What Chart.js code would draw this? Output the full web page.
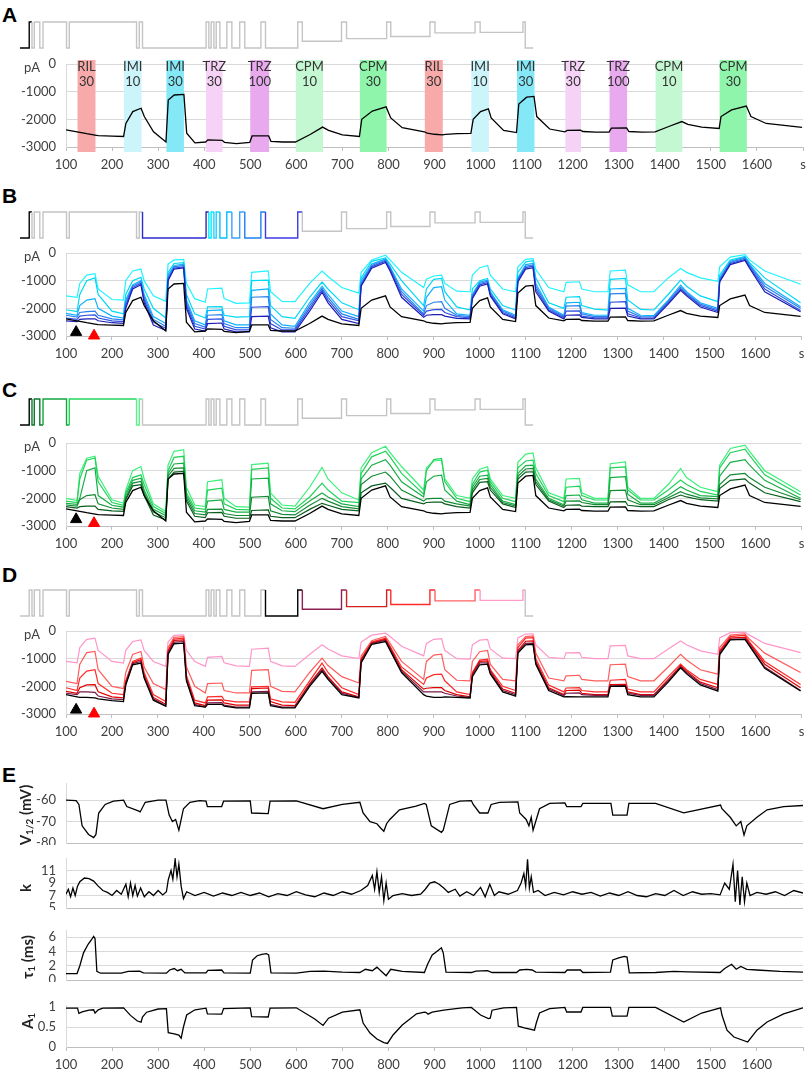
<!DOCTYPE html>
<html>
<head>
<meta charset="utf-8">
<script src="https://cdn.jsdelivr.net/npm/chart.js@4.4.0/dist/chart.umd.min.js"></script>
<style>
  body { margin: 0; background: #fff; width: 809px; height: 1072px; position: relative; overflow: hidden; }
  canvas { position: absolute; left: 0; }
  .tag { position: absolute; left: 2px; font: bold 21px "Liberation Sans", Arial, sans-serif; line-height: 21px; color: #000; }
</style>
</head>
<body>
<div class="tag" style="top:4px">A</div>
<div class="tag" style="top:185px">B</div>
<div class="tag" style="top:379px">C</div>
<div class="tag" style="top:564px">D</div>
<div class="tag" style="top:764px">E</div>

<canvas id="protoA" width="809" height="34" style="top:18px"></canvas>
<canvas id="curA" width="809" height="120" style="top:56px"></canvas>
<canvas id="protoB" width="809" height="34" style="top:208px"></canvas>
<canvas id="curB" width="809" height="120" style="top:245px"></canvas>
<canvas id="protoC" width="809" height="34" style="top:395px"></canvas>
<canvas id="curC" width="809" height="120" style="top:435px"></canvas>
<canvas id="protoD" width="809" height="34" style="top:586px"></canvas>
<canvas id="curD" width="809" height="120" style="top:623px"></canvas>
<canvas id="eV" width="809" height="70" style="top:775px"></canvas>
<canvas id="eK" width="809" height="60" style="top:850px"></canvas>
<canvas id="eTau" width="809" height="60" style="top:922px"></canvas>
<canvas id="eA" width="809" height="75" style="top:997px"></canvas>

<script>
// ---------- axes / ticks ----------
const xTicks = [100, 200, 300, 400, 500, 600, 700, 800, 900, 1000, 1100, 1200, 1300, 1400, 1500, 1600, 1700];
const pATicks = [0, -1000, -2000, -3000];
const vTicks = [-60, -70, -80];
const kTicks = [5, 7, 9, 11];
const tauTicks = [0, 2, 4, 6];
const a1Ticks = [0, 0.5, 1];

// ---------- drug applications (panel A) ----------
const bandStart = [125, 226, 318, 404, 500, 599, 738, 879, 980, 1079, 1184, 1280, 1380, 1519];
const bandEnd   = [164, 264, 356, 440, 541, 658, 796, 918, 1018, 1117, 1218, 1318, 1438, 1578];
const bandDrug  = ['RIL', 'IMI', 'IMI', 'TRZ', 'TRZ', 'CPM', 'CPM', 'RIL', 'IMI', 'IMI', 'TRZ', 'TRZ', 'CPM', 'CPM'];
const bandConc  = ['30', '10', '30', '30', '100', '10', '30', '30', '10', '30', '30', '100', '10', '30'];

// ---------- protocol schematic (own time units, 0 = left end) ----------
const protoU = [0, 20, 20, 26, 26, 31, 31, 43, 43, 50, 50, 101, 101, 107, 107, 253, 253, 259, 259, 266, 266,
  404, 404, 410, 410, 415, 415, 421, 421, 426, 426, 434, 434, 449, 449, 460, 460, 477, 477, 488, 488,
  523, 523, 533, 533, 603, 603, 613, 613, 698, 698, 709, 709, 796, 796, 805, 805, 890, 890, 901, 901,
  988, 988, 999, 999, 1092, 1092, 1097, 1097, 1114];
const protoLvl = [0, 0, 1, 1, 0, 0, 1, 1, 0, 0, 1, 1, 0, 0, 1, 1, 0, 0, 1, 1, 0, 0, 1, 1, 0, 0, 1, 1, 0, 0,
  1, 1, 0, 0, 1, 1, 0, 0, 1, 1, 0, 0, 1, 1, 0, 0, 1, 1, 0.26, 0.26, 1, 1, 0.36, 0.36, 1, 1, 0.44, 0.44,
  1, 1, 0.58, 0.58, 1, 1, 0.6, 0.6, 1, 1, 0, 0];

// ---------- current traces, sampled at common times (s) ----------
const tCur = [100, 124, 130, 145, 163, 170, 200, 225, 230, 245,
  263, 270, 290, 317, 322, 335, 356, 362, 380, 403,
  408, 439, 444, 470, 499, 504, 540, 545, 570, 598,
  630, 657, 670, 700, 737, 742, 765, 795, 805, 830,
  878, 884, 900, 917, 924, 950, 979, 984, 1000, 1017,
  1023, 1050, 1078, 1083, 1100, 1116, 1122, 1150, 1183, 1188,
  1217, 1222, 1250, 1279, 1284, 1317, 1322, 1350, 1379, 1410,
  1437, 1450, 1480, 1518, 1522, 1545, 1577, 1587, 1620, 1698];

const ctrl = [-2380, -2450, -2470, -2520, -2570, -2590, -2610, -2620, -2150, -1720,
  -1600, -1900, -2450, -2820, -1300, -1120, -1100, -2500, -2850, -2820,
  -2740, -2760, -2830, -2880, -2830, -2600, -2600, -2800, -2820, -2820,
  -2550, -2280, -2400, -2560, -2620, -2000, -1700, -1550, -1950, -2300,
  -2450, -2500, -2540, -2560, -2540, -2520, -2510, -2000, -1720, -1620,
  -1950, -2400, -2480, -1450, -1200, -1170, -1900, -2350, -2450, -2400,
  -2390, -2440, -2460, -2460, -2320, -2310, -2440, -2460, -2450, -2250,
  -2080, -2180, -2280, -2330, -1900, -1660, -1520, -1900, -2150, -2290];

// panel B
const b1 = [-1550, -1600, -1100, -800, -750, -1300, -1680, -1700, -1000, -650,
  -580, -1000, -1550, -1750, -400, -250, -230, -1100, -1650, -1780,
  -1300, -1270, -1650, -1820, -1800, -700, -650, -1400, -1750, -1760,
  -1100, -650, -850, -1250, -1450, -700, -250, -80, -250, -700,
  -1250, -950, -830, -800, -1100, -1380, -1400, -800, -530, -450,
  -800, -1300, -1400, -500, -230, -200, -600, -1250, -1400, -1060,
  -1040, -1300, -1400, -1400, -650, -620, -1150, -1400, -1400, -900,
  -560, -700, -900, -1020, -500, -150, -60, -250, -650, -1130];
const b2 = [-2050, -2120, -1500, -1000, -900, -1500, -2100, -2200, -1500, -1000,
  -880, -1300, -2000, -2350, -700, -380, -350, -1500, -2200, -2350,
  -1950, -1940, -2250, -2320, -2300, -1000, -980, -1900, -2300, -2360,
  -1600, -1050, -1300, -1800, -2050, -900, -300, -180, -400, -1000,
  -1900, -1300, -950, -920, -1400, -1950, -2060, -1300, -1000, -920,
  -1300, -1900, -2060, -700, -320, -280, -900, -1800, -2000, -1600,
  -1580, -1900, -2030, -2060, -950, -920, -1700, -2040, -2060, -1500,
  -980, -1200, -1550, -1760, -800, -250, -120, -350, -900, -1800];
const b3 = [-2180, -2250, -1900, -1700, -1650, -2000, -2280, -2350, -1700, -1150,
  -1000, -1500, -2300, -2550, -800, -450, -400, -1700, -2450, -2600,
  -2080, -2060, -2450, -2600, -2600, -1350, -1300, -2200, -2600, -2650,
  -1800, -1200, -1500, -2100, -2300, -1000, -400, -220, -500, -1300,
  -2100, -1600, -1250, -1220, -1700, -2200, -2250, -1500, -1050, -980,
  -1400, -2050, -2250, -900, -420, -380, -1100, -1950, -2250, -1800,
  -1780, -2150, -2250, -2250, -1300, -1280, -2000, -2250, -2260, -1700,
  -1160, -1400, -1800, -2000, -900, -300, -150, -400, -1100, -1940];
const b4 = [-2250, -2320, -2150, -2120, -2100, -2250, -2380, -2420, -1800, -1200,
  -1050, -1600, -2400, -2650, -900, -500, -450, -1800, -2550, -2680,
  -2250, -2230, -2550, -2700, -2700, -1600, -1580, -2400, -2700, -2720,
  -1900, -1280, -1600, -2200, -2400, -1100, -450, -260, -550, -1400,
  -2200, -1900, -1780, -1760, -2000, -2250, -2300, -1550, -1100, -1020,
  -1450, -2100, -2300, -950, -480, -430, -1200, -2000, -2300, -1920,
  -1900, -2200, -2300, -2300, -1480, -1460, -2100, -2300, -2310, -1750,
  -1230, -1450, -1850, -2050, -950, -340, -190, -450, -1200, -2000];
const b5 = [-2350, -2400, -2280, -2250, -2240, -2350, -2450, -2480, -1900, -1250,
  -1100, -1700, -2500, -2720, -950, -540, -500, -1900, -2650, -2750,
  -2400, -2380, -2650, -2780, -2780, -1960, -1940, -2550, -2780, -2780,
  -2000, -1350, -1700, -2300, -2450, -1150, -500, -300, -600, -1500,
  -2250, -2100, -2050, -2040, -2150, -2300, -2340, -1600, -1150, -1070,
  -1500, -2150, -2340, -1000, -530, -480, -1300, -2050, -2330, -2100,
  -2090, -2280, -2340, -2340, -1780, -1760, -2200, -2340, -2350, -1800,
  -1300, -1500, -1900, -2100, -1000, -380, -230, -500, -1300, -2080];
const b6 = [-2450, -2480, -2400, -2380, -2380, -2450, -2520, -2540, -2000, -1300,
  -1150, -1800, -2600, -2800, -1000, -580, -540, -2000, -2750, -2820,
  -2550, -2530, -2750, -2850, -2850, -2300, -2280, -2700, -2850, -2850,
  -2100, -1420, -1800, -2400, -2550, -1200, -550, -340, -650, -1600,
  -2320, -2250, -2230, -2230, -2280, -2360, -2380, -1650, -1200, -1120,
  -1550, -2200, -2380, -1050, -580, -530, -1400, -2100, -2380, -2250,
  -2240, -2330, -2380, -2380, -2000, -1990, -2280, -2380, -2380, -1850,
  -1350, -1550, -1950, -2150, -1050, -420, -270, -550, -1400, -2120];

// panel C
const g1 = [-2000, -2080, -1100, -550, -480, -1200, -2050, -2180, -1700, -1000,
  -850, -1300, -2200, -2480, -800, -300, -240, -1600, -2240, -2300,
  -1400, -1330, -2000, -2300, -2320, -780, -730, -1800, -2240, -2280,
  -1600, -880, -1300, -1800, -2060, -900, -350, -120, -350, -850,
  -1700, -900, -650, -620, -1300, -1900, -2000, -1300, -950, -860,
  -1300, -1900, -2000, -700, -400, -360, -900, -1800, -2000, -1300,
  -1280, -1800, -2000, -2000, -750, -680, -1600, -2000, -2000, -1500,
  -920, -1250, -1600, -1760, -800, -200, -80, -300, -1000, -1760];
const g2 = [-2100, -2150, -1300, -620, -540, -1400, -2150, -2250, -1800, -1250,
  -1150, -1500, -2300, -2550, -1000, -520, -480, -1800, -2350, -2400,
  -1700, -1630, -2200, -2400, -2420, -950, -900, -2000, -2350, -2380,
  -1950, -1450, -1700, -2100, -2150, -1100, -500, -300, -500, -1100,
  -1850, -1000, -600, -560, -1400, -2000, -2120, -1500, -1050, -980,
  -1400, -2000, -2120, -900, -650, -620, -1100, -1900, -2120, -1600,
  -1560, -1900, -2060, -2060, -900, -860, -1700, -2060, -2060, -1700,
  -1340, -1500, -1750, -1880, -900, -350, -220, -450, -1150, -1880];
const g3 = [-2180, -2220, -2000, -1000, -900, -1900, -2250, -2320, -1900, -1350,
  -1270, -1700, -2400, -2620, -1100, -760, -730, -1900, -2450, -2500,
  -2100, -2060, -2400, -2500, -2500, -1300, -1270, -2200, -2450, -2480,
  -2100, -1810, -1950, -2200, -2300, -1300, -800, -600, -800, -1400,
  -1950, -1400, -1200, -1160, -1700, -2100, -2230, -1600, -1200, -1160,
  -1500, -2100, -2230, -1100, -820, -800, -1300, -2000, -2230, -1900,
  -1880, -2050, -2170, -2170, -1250, -1220, -1850, -2170, -2170, -1900,
  -1580, -1700, -1900, -1940, -1200, -700, -600, -800, -1350, -2000];
const g4 = [-2240, -2280, -2050, -1900, -1870, -2200, -2350, -2400, -2000, -1450,
  -1390, -1800, -2500, -2700, -1200, -920, -900, -2000, -2550, -2600,
  -2400, -2390, -2550, -2620, -2620, -1960, -1930, -2450, -2580, -2600,
  -2250, -2000, -2100, -2300, -2380, -1500, -1200, -1050, -1200, -1700,
  -2100, -2020, -2000, -2000, -2100, -2200, -2280, -1700, -1320, -1280,
  -1600, -2150, -2280, -1200, -940, -920, -1400, -2050, -2280, -2100,
  -2090, -2150, -2230, -2230, -1720, -1700, -2050, -2230, -2230, -1980,
  -1760, -1850, -1980, -2020, -1500, -1150, -1100, -1250, -1600, -2050];
const g5 = [-2300, -2350, -2300, -2280, -2280, -2400, -2450, -2470, -2050, -1550,
  -1510, -1900, -2600, -2780, -1300, -1050, -1030, -2100, -2650, -2700,
  -2520, -2510, -2650, -2720, -2720, -2440, -2420, -2650, -2700, -2700,
  -2400, -2180, -2250, -2400, -2450, -1800, -1550, -1450, -1600, -2000,
  -2200, -2150, -2140, -2140, -2200, -2300, -2350, -1800, -1420, -1400,
  -1700, -2200, -2330, -1300, -1050, -1040, -1500, -2100, -2330, -2250,
  -2240, -2280, -2300, -2300, -2130, -2120, -2250, -2300, -2300, -2050,
  -1880, -1950, -2050, -2100, -1650, -1350, -1300, -1450, -1800, -2120];

// panel D
const pk = [-1100, -1150, -600, -300, -260, -700, -1100, -1160, -700, -380,
  -320, -700, -1100, -1280, -400, -160, -140, -700, -1100, -1280,
  -950, -920, -1150, -1260, -1280, -660, -620, -1100, -1260, -1280,
  -850, -500, -650, -900, -1000, -400, -150, -80, -200, -550,
  -900, -450, -300, -280, -700, -1000, -1020, -500, -330, -300,
  -650, -980, -1000, -250, -110, -100, -500, -950, -1000, -790,
  -780, -950, -1000, -1000, -540, -520, -900, -1000, -1000, -650,
  -360, -500, -720, -840, -250, -60, -40, -150, -450, -780];
const r1 = [-1820, -1900, -1200, -780, -740, -1400, -2000, -2080, -1500, -850,
  -740, -1300, -1900, -2120, -600, -230, -200, -1300, -2000, -2240,
  -1900, -1880, -2150, -2240, -2240, -1420, -1400, -2000, -2180, -2200,
  -1500, -980, -1250, -1650, -1880, -900, -350, -200, -450, -1100,
  -1750, -1100, -870, -840, -1400, -1780, -1800, -1100, -750, -700,
  -1200, -1750, -1800, -500, -200, -180, -800, -1700, -1800, -1620,
  -1600, -1750, -1800, -1800, -1220, -1200, -1650, -1800, -1800, -1300,
  -840, -1050, -1400, -1560, -600, -150, -100, -300, -800, -1500];
const r2 = [-2050, -2150, -1700, -1450, -1400, -1900, -2250, -2300, -1800, -1100,
  -980, -1500, -2300, -2550, -700, -290, -260, -1600, -2500, -2600,
  -2380, -2360, -2500, -2560, -2560, -2020, -2000, -2450, -2560, -2580,
  -1800, -1160, -1500, -2050, -2300, -1000, -400, -260, -550, -1300,
  -1930, -1700, -1580, -1560, -1800, -2200, -2300, -1500, -1050, -1020,
  -1400, -2000, -2150, -600, -260, -240, -1000, -1950, -2200, -2060,
  -2050, -2150, -2200, -2200, -1780, -1750, -2100, -2200, -2200, -1650,
  -1200, -1400, -1750, -1930, -700, -200, -150, -400, -1100, -1930];
const r3 = [-2180, -2250, -2050, -1950, -1940, -2200, -2380, -2420, -1850, -1150,
  -1040, -1600, -2400, -2650, -750, -340, -320, -1700, -2600, -2700,
  -2500, -2490, -2600, -2680, -2680, -2080, -2060, -2550, -2680, -2700,
  -1900, -1340, -1650, -2200, -2380, -1050, -430, -300, -600, -1400,
  -2100, -2070, -2050, -2050, -2150, -2300, -2380, -1550, -1100, -1080,
  -1450, -2100, -2250, -700, -370, -360, -1100, -2050, -2300, -2150,
  -2140, -2250, -2300, -2300, -1940, -1930, -2200, -2300, -2300, -1750,
  -1260, -1450, -1850, -2050, -750, -260, -220, -450, -1200, -2050];
const mr = [-2250, -2300, -2200, -2200, -2220, -2350, -2450, -2480, -1900, -1180,
  -1100, -1650, -2450, -2700, -800, -400, -380, -1750, -2650, -2750,
  -2600, -2590, -2680, -2750, -2750, -2200, -2180, -2650, -2750, -2750,
  -1950, -1400, -1700, -2250, -2400, -1100, -450, -330, -650, -1450,
  -2200, -2200, -2200, -2200, -2250, -2350, -2400, -1600, -1150, -1150,
  -1500, -2150, -2300, -750, -450, -440, -1150, -2100, -2330, -2250,
  -2240, -2300, -2330, -2330, -1980, -1970, -2250, -2330, -2330, -1800,
  -1300, -1500, -1900, -2120, -800, -300, -280, -500, -1300, -2150];
const dk = [-2300, -2380, -2400, -2400, -2420, -2450, -2520, -2550, -1950, -1220,
  -1160, -1700, -2500, -2720, -850, -460, -440, -1800, -2700, -2750,
  -2650, -2650, -2720, -2780, -2780, -2250, -2240, -2700, -2780, -2780,
  -2000, -1460, -1750, -2300, -2420, -1150, -480, -380, -700, -1500,
  -2300, -2350, -2400, -2400, -2380, -2400, -2420, -1650, -1220, -1200,
  -1550, -2200, -2350, -800, -500, -480, -1200, -2150, -2380, -2370,
  -2380, -2380, -2380, -2380, -2000, -1990, -2300, -2380, -2380, -1850,
  -1330, -1550, -1950, -2170, -850, -320, -300, -550, -1350, -2170];

// arrow markers (time, current) for B, C, D
const markT = [122, 161];
const markB = [-2860, -2990];
const markC = [-2760, -2900];
const markD = [-2850, -2990];

// ---------- panel E: fitted parameters ----------
const vT = [100, 122, 128, 135, 149, 160, 165, 171, 185, 203, 225, 232, 257, 261, 272, 300, 317, 324, 331, 338,
  345, 349, 355, 369, 390, 404, 407, 438, 442, 500, 503, 539, 543, 600, 658, 700, 738, 745, 760, 775,
  783, 790, 796, 803, 824, 860, 878, 882, 893, 915, 919, 926, 933, 955, 980, 984, 998, 1016, 1023, 1041,
  1081, 1085, 1099, 1105, 1110, 1114, 1128, 1150, 1183, 1187, 1218, 1222, 1283, 1287, 1318, 1322, 1380, 1441, 1521, 1524,
  1542, 1555, 1565, 1572, 1578, 1600, 1622, 1658, 1700];
const vHalf = [-60, -60.2, -62, -72, -76, -77.5, -76, -66, -62, -60.5, -60, -63, -65, -65.5, -61, -60, -60, -67, -70, -69,
  -74, -70, -64, -61, -60.2, -60.5, -63, -63, -60.5, -60.3, -66, -66.3, -60.5, -60.3, -64, -62, -61, -66, -70, -71,
  -73, -74.5, -71, -69, -64.5, -62.8, -61.5, -62, -72, -75, -74, -68, -62, -60.5, -60.2, -62, -66, -66, -62, -61,
  -60.8, -66, -69, -72, -68, -74, -64, -61.5, -61.3, -63, -63, -61.5, -61.5, -67, -67, -61.5, -61.5, -65.9, -62.3, -64,
  -68, -72, -70, -76.3, -72, -68, -64.5, -63, -62.5];

const kT = [100, 105, 110, 115, 120, 125, 130, 140, 150, 160, 170, 180, 190, 200, 210, 220, 230, 235, 240, 245,
  250, 255, 262, 270, 280, 290, 300, 310, 318, 322, 328, 332, 337, 341, 345, 350, 355, 362, 380, 400,
  420, 440, 460, 480, 500, 520, 540, 560, 580, 600, 620, 640, 660, 680, 700, 720, 740, 755, 765, 770,
  775, 780, 785, 790, 795, 800, 810, 830, 850, 870, 880, 890, 900, 910, 920, 930, 945, 955, 970, 985,
  1000, 1010, 1020, 1030, 1040, 1060, 1080, 1088, 1094, 1098, 1102, 1106, 1110, 1115, 1125, 1140, 1160, 1180, 1200, 1220,
  1240, 1260, 1280, 1300, 1320, 1340, 1360, 1380, 1400, 1420, 1440, 1460, 1480, 1500, 1520, 1530, 1540, 1548, 1553, 1558,
  1563, 1568, 1573, 1578, 1585, 1600, 1620, 1640, 1660, 1680, 1700];
const kVal = [7.2, 8.0, 6.8, 8.2, 7.0, 8.5, 9.2, 9.8, 9.7, 9.3, 8.5, 7.8, 7.5, 7.0, 7.8, 7.2, 8.8, 6.8, 9.0, 7.0,
  8.6, 6.9, 8.2, 6.8, 7.6, 7.0, 7.8, 7.1, 7.6, 9.5, 11.0, 9.6, 12.8, 10.0, 12.0, 8.5, 6.5, 7.6, 7.0, 7.5,
  6.9, 7.4, 7.0, 7.5, 7.0, 7.4, 6.8, 7.3, 7.0, 7.6, 7.1, 6.8, 7.4, 7.0, 7.6, 7.2, 7.8, 8.6, 10.2, 8.0,
  10.8, 7.5, 10.0, 6.2, 9.0, 6.4, 7.0, 7.3, 7.0, 7.2, 8.0, 9.0, 9.2, 8.8, 8.2, 7.5, 8.0, 6.9, 7.6, 7.0,
  8.3, 6.8, 8.8, 7.0, 7.6, 7.2, 7.8, 9.0, 10.5, 8.5, 12.8, 8.2, 10.0, 7.5, 7.8, 7.0, 7.5, 7.1, 7.6, 7.2,
  7.5, 6.9, 7.4, 7.0, 7.6, 7.0, 6.8, 7.3, 7.0, 7.8, 7.0, 7.6, 7.2, 7.3, 7.1, 9.0, 8.0, 12.0, 6.0, 11.0,
  5.5, 10.0, 6.0, 9.0, 7.0, 7.5, 7.2, 7.6, 7.0, 7.8, 7.4];

const tauT = [100, 124, 130, 138, 148, 155, 160, 163, 167, 175, 220, 235, 260, 268, 318, 325, 335, 342, 350, 358,
  404, 408, 438, 443, 500, 505, 515, 525, 535, 540, 545, 600, 630, 660, 700, 738, 750, 765, 775, 785,
  795, 805, 830, 878, 885, 895, 905, 915, 919, 925, 980, 990, 1015, 1025, 1078, 1085, 1100, 1112, 1120, 1183,
  1188, 1217, 1222, 1282, 1287, 1300, 1312, 1318, 1323, 1380, 1420, 1450, 1520, 1530, 1545, 1555, 1565, 1578, 1600, 1650,
  1700];
const tauVal = [0.9, 0.9, 2.0, 3.8, 5.0, 5.6, 6.1, 5.8, 1.2, 0.95, 0.95, 1.2, 1.25, 1.0, 0.95, 1.4, 1.6, 1.3, 1.5, 1.0,
  1.0, 1.35, 1.4, 1.0, 0.95, 2.8, 3.4, 3.6, 3.7, 3.5, 1.0, 0.95, 1.2, 1.25, 1.1, 1.05, 1.5, 1.3, 1.8, 1.2,
  0.6, 1.5, 1.2, 1.05, 2.2, 3.5, 4.0, 4.5, 3.8, 1.1, 1.05, 1.25, 1.3, 1.05, 1.05, 1.4, 1.5, 1.4, 1.1, 1.05,
  1.4, 1.4, 1.05, 1.1, 2.8, 3.1, 3.3, 3.2, 1.0, 1.05, 1.2, 1.15, 1.05, 1.6, 2.2, 1.5, 1.9, 1.5, 1.4, 1.2,
  1.1];

const aT = [100, 125, 128, 135, 150, 160, 163, 170, 180, 225, 240, 255, 263, 266, 275, 300, 318, 322, 335, 345,
  350, 355, 362, 380, 404, 407, 438, 442, 500, 503, 539, 543, 600, 640, 658, 670, 700, 738, 745, 760,
  775, 790, 798, 810, 830, 861, 878, 882, 886, 895, 920, 960, 980, 984, 1000, 1017, 1021, 1025, 1050, 1078,
  1082, 1095, 1117, 1121, 1128, 1150, 1183, 1187, 1218, 1222, 1282, 1286, 1318, 1322, 1380, 1441, 1480, 1521, 1524, 1535,
  1550, 1580, 1600, 1622, 1658, 1700];
const aVal = [0.97, 0.97, 0.84, 0.88, 0.92, 0.93, 0.85, 0.93, 0.97, 0.98, 0.79, 0.65, 0.62, 0.75, 0.87, 0.95, 0.96, 0.36, 0.33, 0.3,
  0.22, 0.5, 0.8, 0.93, 0.97, 0.83, 0.82, 0.96, 0.98, 0.76, 0.75, 0.97, 0.98, 0.7, 0.54, 0.72, 0.87, 0.93, 0.6, 0.35,
  0.2, 0.11, 0.09, 0.3, 0.55, 0.83, 0.87, 0.86, 0.82, 0.87, 0.92, 0.98, 0.99, 0.95, 0.8, 0.71, 0.72, 0.92, 0.98, 0.99,
  0.52, 0.48, 0.42, 0.6, 0.85, 0.96, 0.99, 0.875, 0.875, 0.99, 0.99, 0.77, 0.77, 0.99, 0.99, 0.625, 0.85, 0.98, 0.8, 0.42,
  0.25, 0.125, 0.42, 0.625, 0.83, 0.98];

// ---------- styling ----------
const GREY = '#c4c4c4';
const bandColor = {
  RIL30: '#f8aaaa', IMI10: '#cbf4fb', IMI30: '#84e8f7',
  TRZ30: '#f6d3f6', TRZ100: '#e9a9ef', CPM10: '#c4f8d2', CPM30: '#8ff5aa'
};
const protoColorsA = [[0, 26, '#000']];
const protoColorsB = [[0, 26, '#000'], [266, 404, '#2b2bd0'], [404, 410, '#2a2ab8'], [410, 421, '#00e8ff'],
  [421, 434, '#20d0ff'], [434, 460, '#00c0ff'], [460, 488, '#3aa0ff'], [488, 533, '#1e80f0'], [533, 613, '#3c3ce6']];
const protoColorsC = [[0, 26, '#000'], [26, 50, '#0a7a2a'], [50, 107, '#14a440'], [107, 253, '#22d65c'], [253, 266, '#5cf08a']];
const protoColorsD = [[533, 613, '#000'], [613, 709, '#8b2252'], [709, 805, '#d42020'], [805, 901, '#ff2a2a'],
  [901, 999, '#ff6464'], [999, 1097, '#ff9ccc']];

Chart.defaults.font.family = 'Lato, "Open Sans", sans-serif';
Chart.defaults.font.size = 13;
Chart.defaults.color = '#404040';
Chart.defaults.animation = false;
Chart.defaults.responsive = false;
Chart.defaults.devicePixelRatio = 1;
Chart.defaults.plugins.legend.display = false;
Chart.defaults.plugins.tooltip.enabled = false;
Chart.defaults.elements.point.radius = 0;
Chart.defaults.elements.line.tension = 0;

const pts = (xs, ys) => xs.map((x, i) => ({ x: x, y: ys[i] }));
const trace = (ys, color, w) => ({ data: pts(tCur, ys), borderColor: color, borderWidth: w || 1.2, fill: false });
const marks = (ys) => ({
  data: pts(markT, ys), showLine: false, pointStyle: 'triangle', pointRadius: 6.5,
  pointBackgroundColor: ['#000', '#ff0000'], pointBorderColor: ['#000', '#ff0000'], clip: false
});

// scale paddings are zeroed so the plot boxes land exactly where the layout puts them
function xAxis(labels, hideS) {
  return {
    type: 'linear', min: 100, max: 1700, display: labels !== null,
    afterBuildTicks: s => { s.ticks = xTicks.map(v => ({ value: v })); },
    afterFit: s => { s.height = labels || 0; s.paddingLeft = 0; s.paddingRight = 0; },
    ticks: { autoSkip: false, maxRotation: 0, padding: 6,
      callback: v => v === 1700 ? (hideS ? '' : 's') : String(v) },
    grid: { drawOnChartArea: false, drawTicks: true, tickLength: 4, color: '#bfbfbf' },
    border: { display: true, color: '#bfbfbf' }
  };
}
function yAxis(min, max, ticks) {
  return {
    min: min, max: max,
    afterBuildTicks: s => { s.ticks = ticks.map(v => ({ value: v })); },
    afterFit: s => { s.width = 66; s.paddingTop = 0; s.paddingBottom = 0; },
    ticks: { padding: 10, autoSkip: false, callback: v => String(v) },
    grid: { drawTicks: false, color: c => (c.tick && c.tick.value === min) ? '#bfbfbf' : '#d9d9d9' },
    border: { display: true, color: '#d9d9d9' }
  };
}

// ---------- plugins ----------
const pALabel = {
  id: 'pALabel',
  afterDraw(chart) {
    const { ctx, scales: { y } } = chart;
    ctx.save();
    ctx.font = '13px Lato';
    ctx.fillStyle = '#404040';
    ctx.textAlign = 'right';
    ctx.textBaseline = 'middle';
    ctx.fillText('pA', 40, y.getPixelForValue(0) + 4);
    ctx.restore();
  }
};

const bandsPlugin = {
  id: 'bands',
  beforeDatasetsDraw(chart) {
    const { ctx, chartArea: a, scales: { x } } = chart;
    ctx.save();
    bandStart.forEach((s, i) => {
      const x0 = x.getPixelForValue(s), x1 = x.getPixelForValue(bandEnd[i]);
      ctx.fillStyle = bandColor[bandDrug[i] + bandConc[i]];
      ctx.fillRect(x0, a.top - 4, x1 - x0, a.bottom - a.top + 9);
      ctx.fillStyle = '#333';
      ctx.font = '13px Lato';
      ctx.textAlign = 'center';
      ctx.textBaseline = 'middle';
      ctx.fillText(bandDrug[i], (x0 + x1) / 2, a.top + 3);
      ctx.fillText(bandConc[i], (x0 + x1) / 2, a.top + 18);
    });
    ctx.restore();
  }
};

const eTitle = {
  id: 'etitle',
  afterDraw(chart, args, o) {
    if (!o || !o.parts) return;
    const { ctx, chartArea: a } = chart;
    const big = 'bold 15px Lato', small = 'bold 10px Lato';
    ctx.save();
    let w = 0;
    o.parts.forEach(p => { ctx.font = p.sub ? small : big; w += ctx.measureText(p.t).width; });
    ctx.translate(o.x, (a.top + a.bottom) / 2 + (o.dy || 0));
    ctx.rotate(-Math.PI / 2);
    ctx.textBaseline = 'middle';
    ctx.fillStyle = '#222';
    let cx = -w / 2;
    o.parts.forEach(p => {
      ctx.font = p.sub ? small : big;
      ctx.fillText(p.t, cx, p.sub ? 4 : 0);
      cx += ctx.measureText(p.t).width;
    });
    ctx.restore();
  }
};

// ---------- chart builders ----------
function protoChart(id, ranges) {
  new Chart(document.getElementById(id), {
    type: 'line',
    data: { datasets: [{
      data: pts(protoU, protoLvl), borderWidth: 1.4, borderColor: GREY, clip: false,
      segment: { borderColor: c => {
        const u = c.p0.parsed.x;
        const r = ranges.find(r => u >= r[0] && u < r[1]);
        return r ? r[2] : GREY;
      } }
    }] },
    options: {
      layout: { padding: { left: 20, right: 6, top: 4, bottom: 4 } },
      scales: { x: { type: 'linear', min: 0, max: 1700, display: false }, y: { min: 0, max: 1, display: false } }
    }
  });
}

function currentChart(id, sets, extra) {
  new Chart(document.getElementById(id), {
    type: 'line',
    data: { datasets: sets },
    options: {
      layout: { padding: { top: 8, right: 6, left: 0, bottom: 0 } },
      scales: { x: xAxis(29, false), y: yAxis(-3000, 0, pATicks) }
    },
    plugins: [pALabel].concat(extra || [])
  });
}

function paramChart(id, xs, ys, min, max, ticks, title, withX) {
  new Chart(document.getElementById(id), {
    type: 'line',
    data: { datasets: [{ data: pts(xs, ys), borderColor: '#000', borderWidth: 1.3, fill: false }] },
    options: {
      layout: { padding: { top: 8, right: 6, left: 0, bottom: withX ? 0 : 2 } },
      scales: { x: withX ? xAxis(25, true) : xAxis(null, true), y: yAxis(min, max, ticks) },
      plugins: { etitle: title }
    },
    plugins: [eTitle]
  });
}

// ---------- panels ----------
protoChart('protoA', protoColorsA);
currentChart('curA', [trace(ctrl, '#000', 1.3)], [bandsPlugin]);

protoChart('protoB', protoColorsB);
currentChart('curB', [
  marks(markB),
  trace(ctrl, '#000', 1.3),
  trace(b6, '#1e1eb4'), trace(b5, '#2f4fe0'), trace(b4, '#2a80ee'),
  trace(b3, '#10b0ff'), trace(b2, '#00d8f5'), trace(b1, '#22f2ff')
]);

protoChart('protoC', protoColorsC);
currentChart('curC', [
  marks(markC),
  trace(ctrl, '#000', 1.3),
  trace(g5, '#0b5e1e'), trace(g4, '#138a34'), trace(g3, '#1aae46'),
  trace(g2, '#22d25a'), trace(g1, '#3cf07a')
]);

protoChart('protoD', protoColorsD);
currentChart('curD', [
  marks(markD),
  trace(dk, '#000', 1.3), trace(mr, '#7a1a44'),
  trace(r3, '#e00000'), trace(r2, '#ff2a2a'), trace(r1, '#ff5c5c'), trace(pk, '#ff96c8')
]);

paramChart('eV', vT, vHalf, -80, -52, vTicks,
  { x: 26, dy: 2, parts: [{ t: 'V' }, { t: '1/2', sub: true }, { t: ' (mV)' }] }, false);
paramChart('eK', kT, kVal, 5, 13, kTicks, { x: 26, dy: 5, parts: [{ t: 'k' }] }, false);
paramChart('eTau', tauT, tauVal, 0, 7, tauTicks,
  { x: 28, dy: 2, parts: [{ t: 'τ' }, { t: '1', sub: true }, { t: ' (ms)' }] }, false);
paramChart('eA', aT, aVal, 0, 1.05, a1Ticks, { x: 28, dy: -5, parts: [{ t: 'A' }, { t: '1', sub: true }] }, true);
</script>
</body>
</html>
